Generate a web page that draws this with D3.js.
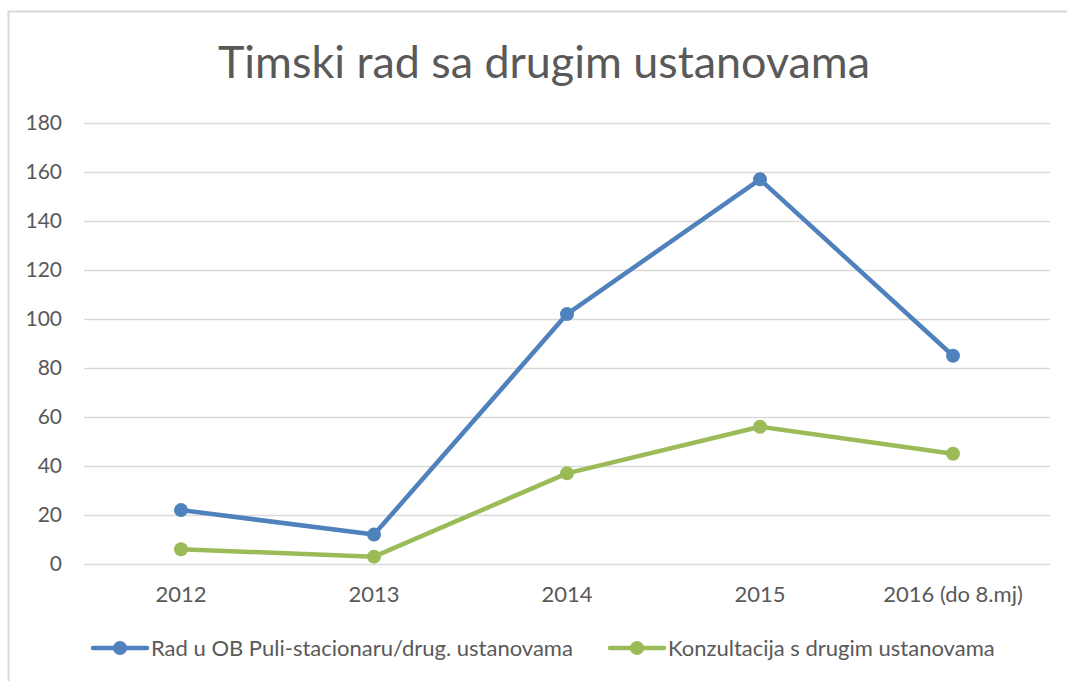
<!DOCTYPE html>
<html>
<head>
<meta charset="utf-8">
<script src="https://cdn.jsdelivr.net/npm/d3@7"></script>
<style>
  body { margin: 0; background: #fff; }
  svg { display: block; font-family: Lato, "Open Sans", sans-serif; }
</style>
</head>
<body>
<svg id="chart" width="1067" height="681"></svg>
<script>
// Data
const years = ["2012", "2013", "2014", "2015", "2016 (do 8.mj)"];
const radUOB = [22, 12, 102, 157, 85];
const konzultacija = [6, 3, 37, 56, 45];
const yTicks = [0, 20, 40, 60, 80, 100, 120, 140, 160, 180];
const seriesNames = ["Rad u OB Puli-stacionaru/drug. ustanovama", "Konzultacija s drugim ustanovama"];
const seriesColors = ["#4f81bd", "#9bbb59"];

const svg = d3.select("#chart");
const textColor = "#595959";

// chart frame
svg.append("rect")
    .attr("x", 8.5).attr("y", 11.5)
    .attr("width", 1080).attr("height", 700)
    .attr("fill", "#fff")
    .attr("stroke", "#d9d9d9")
    .attr("stroke-width", 2);

// title
svg.append("text")
    .attr("x", 544).attr("y", 78)
    .attr("text-anchor", "middle")
    .attr("fill", textColor)
    .attr("font-size", 44)
    .attr("textLength", 652)
    .attr("lengthAdjust", "spacingAndGlyphs")
    .text("Timski rad sa drugim ustanovama");

// scales
const x = d3.scaleBand().domain(years).range([84.5, 1049.5]);
const y = d3.scaleLinear().domain([0, 180]).range([564, 123]);

// gridlines
svg.append("g")
    .selectAll("line")
    .data(yTicks)
    .enter().append("line")
    .attr("x1", 84).attr("x2", 1050)
    .attr("y1", d => Math.round(y(d)) + 0.5)
    .attr("y2", d => Math.round(y(d)) + 0.5)
    .attr("stroke", "#d9d9d9")
    .attr("stroke-width", 1.3);

// y axis labels
const yAxis = svg.append("g")
    .attr("transform", "translate(84,0)")
    .call(d3.axisLeft(y).tickValues(yTicks).tickSize(0).tickPadding(22));
yAxis.select(".domain").remove();
yAxis.selectAll("text")
    .attr("fill", textColor)
    .attr("font-size", 21)
    .attr("font-family", "Lato, sans-serif");

// x axis labels
const xAxis = svg.append("g")
    .attr("transform", "translate(0,564)")
    .call(d3.axisBottom(x).tickSize(0).tickPadding(22));
xAxis.select(".domain").remove();
xAxis.selectAll("text")
    .attr("fill", textColor)
    .attr("font-size", 22)
    .attr("font-family", "Lato, sans-serif");

// lines
const line = d3.line()
    .x((d, i) => x(years[i]) + x.bandwidth() / 2)
    .y(d => y(d));

[radUOB, konzultacija].forEach((values, s) => {
    svg.append("path")
        .datum(values)
        .attr("d", line)
        .attr("fill", "none")
        .attr("stroke", seriesColors[s])
        .attr("stroke-width", 4.5)
        .attr("stroke-linejoin", "round");

    svg.append("g")
        .selectAll("circle")
        .data(values)
        .enter().append("circle")
        .attr("cx", (d, i) => x(years[i]) + x.bandwidth() / 2)
        .attr("cy", d => y(d))
        .attr("r", 7)
        .attr("fill", seriesColors[s]);
});

// legend
const legendItems = [
    {x: 93, name: seriesNames[0], color: seriesColors[0]},
    {x: 610, name: seriesNames[1], color: seriesColors[1]}
];
const legend = svg.append("g");
legendItems.forEach(item => {
    const g = legend.append("g").attr("transform", `translate(${item.x},648)`);
    g.append("line")
        .attr("x1", 0).attr("x2", 54)
        .attr("stroke", item.color)
        .attr("stroke-width", 4.5)
        .attr("stroke-linecap", "round");
    g.append("circle")
        .attr("cx", 27).attr("r", 7)
        .attr("fill", item.color);
    g.append("text")
        .attr("x", 58).attr("dy", "0.35em")
        .attr("fill", textColor)
        .attr("font-size", 22)
        .text(item.name);
});
</script>
</body>
</html>
